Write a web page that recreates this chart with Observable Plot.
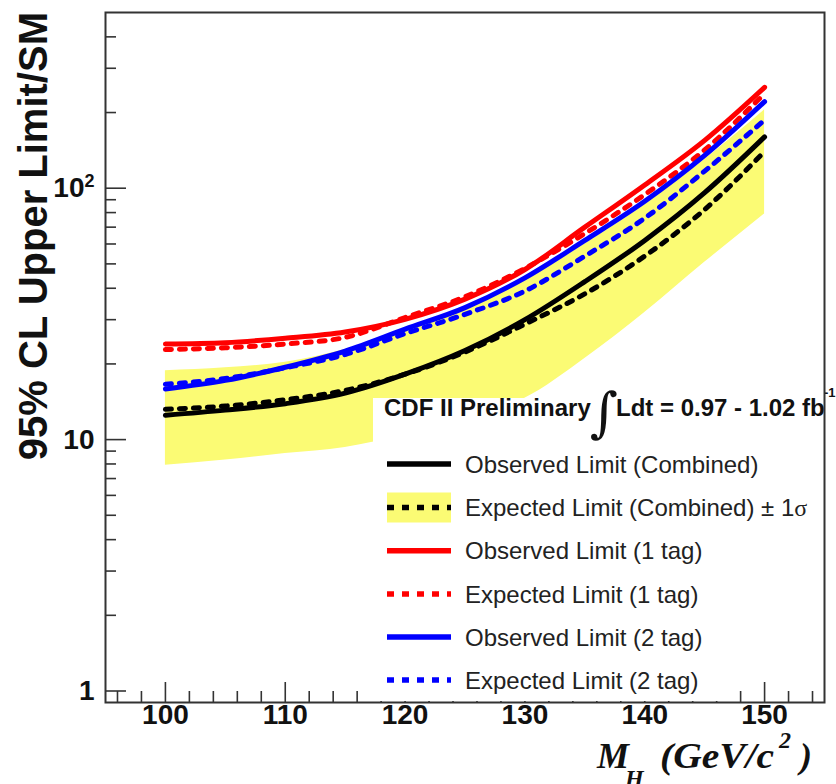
<!DOCTYPE html>
<html>
<head>
<meta charset="utf-8">
<script src="https://cdn.jsdelivr.net/npm/d3@7"></script>
<script src="https://cdn.jsdelivr.net/npm/@observablehq/plot@0.6"></script>
<style>
  html, body { margin: 0; padding: 0; background: #fff; overflow: hidden; }
  #chart { width: 836px; height: 784px; }
</style>
</head>
<body>
<div id="chart"></div>
<script>
// ---- data ----
const mass     = [100, 105, 110, 115, 120, 125, 130, 135, 140, 145, 150];
const obsComb  = [12.5, 13.1, 13.9, 15.3, 18.2, 22.6, 30.0, 42.5, 62.0, 96.0, 160];
const expComb  = [13.2, 13.6, 14.4, 15.7, 18.2, 22.3, 28.8, 38.0, 53.7, 82.3, 140];
const bandLo   = [7.9, 8.3, 8.8, 9.3, 10.5, 12.4, 14.6, 21.0, 32.0, 50.7, 79.0];
const bandHi   = [18.8, 19.3, 20.3, 22.8, 27.0, 33.0, 43.0, 60.0, 86.0, 130, 205];
const obs1tag  = [24.0, 24.3, 25.3, 26.8, 30.1, 36.2, 47.5, 70.0, 103, 155, 252];
const exp1tag  = [22.8, 23.2, 24.0, 25.5, 30.6, 37.0, 48.0, 66.0, 94.4, 142, 238];
const obs2tag  = [15.9, 17.2, 19.4, 22.5, 27.5, 33.5, 44.0, 62.0, 88.7, 135, 221];
const exp2tag  = [16.6, 17.5, 19.3, 21.8, 26.4, 31.5, 39.0, 53.7, 76.0, 117, 187];

const xMajor = [100, 110, 120, 130, 140, 150];
const xMinor = [96, 98, 102, 104, 106, 108, 112, 114, 116, 118, 122, 124, 126, 128,
                132, 134, 136, 138, 142, 144, 146, 148, 152, 154];
const yMajor = [1, 10, 100];
const yLabels = ["1", "10", "10"];
const yExponents = ["", "", "2"];
const yMinor = [2, 3, 4, 5, 6, 7, 8, 9, 20, 30, 40, 50, 60, 70, 80, 90, 200, 300, 400];

const legendLabels = [
  "Observed Limit (Combined)",
  "Expected Limit (Combined) \u00B1 1",
  "Observed Limit (1 tag)",
  "Expected Limit (1 tag)",
  "Observed Limit (2 tag)",
  "Expected Limit (2 tag)"
];
const headerText = "CDF II Preliminary";
const lumiText = "Ldt = 0.97 - 1.02 fb";
const yTitle = "95% CL Upper Limit/SM";

// ---- styling ----
const W = 836, H = 784, mL = 105, mR = 12, mT = 12, mB = 82;
const fw = W - mL - mR, fh = H - mT - mB;
const SANS = "'Liberation Sans', Arial, Helvetica, sans-serif";
const SERIF = "'Liberation Serif', 'Times New Roman', serif";
const RED = "#ff0000", BLUE = "#0000ff", BLACK = "#000000", YELLOW = "#fbfb74";
const AX = "#333333";
const LW = 5, DASH = "6,8";

const rows = mass.map((m, i) => ({
  m, obs: obsComb[i], exp: expComb[i], lo: bandLo[i], hi: bandHi[i],
  o1: obs1tag[i], e1: exp1tag[i], o2: obs2tag[i], e2: exp2tag[i]
}));
const curve = "monotone-x";

const plot = Plot.plot({
  width: W, height: H,
  marginLeft: mL, marginRight: mR, marginTop: mT, marginBottom: mB,
  style: { fontFamily: SANS, background: "#fff", color: "#111" },
  x: { domain: [95, 155], axis: null },
  y: { type: "log", domain: [0.9, 500], axis: null },
  marks: [
    Plot.areaY(rows, { x: "m", y1: "lo", y2: "hi", fill: YELLOW, curve }),
    Plot.lineY(rows, { x: "m", y: "exp", stroke: BLACK, strokeWidth: LW, strokeDasharray: DASH, curve }),
    Plot.lineY(rows, { x: "m", y: "e2", stroke: BLUE, strokeWidth: LW, strokeDasharray: DASH, curve }),
    Plot.lineY(rows, { x: "m", y: "e1", stroke: RED, strokeWidth: LW, strokeDasharray: DASH, curve }),
    Plot.lineY(rows, { x: "m", y: "obs", stroke: BLACK, strokeWidth: LW, curve }),
    Plot.lineY(rows, { x: "m", y: "o2", stroke: BLUE, strokeWidth: LW, curve }),
    Plot.lineY(rows, { x: "m", y: "o1", stroke: RED, strokeWidth: LW, curve }),
    // inward ROOT-style ticks
    Plot.ruleX(xMinor, { x: d => d, insetTop: fh - 11, stroke: AX, strokeWidth: 1.6 }),
    Plot.ruleX(xMajor, { x: d => d, insetTop: fh - 20, stroke: AX, strokeWidth: 1.6 }),
    Plot.ruleY(yMinor, { y: d => d, insetRight: fw - 11, stroke: AX, strokeWidth: 1.6 }),
    Plot.ruleY(yMajor, { y: d => d, insetRight: fw - 21, stroke: AX, strokeWidth: 1.6 }),
    Plot.text(xMajor, { x: d => d, frameAnchor: "bottom", dy: 21, text: d => String(d),
      fontSize: 28, fontWeight: "bold", fill: "#111" }),
    Plot.text(yMajor, { y: d => d, frameAnchor: "left", dx: -11, textAnchor: "end",
      text: (d, i) => yLabels[i], fontSize: 28, fontWeight: "bold", fill: "#111",
      className: "ylab" }),
    Plot.frame({ stroke: AX, strokeWidth: 2 })
  ]
});

document.getElementById("chart").appendChild(plot);

const svg = d3.select(plot).style("overflow", "visible");

// exponent of the 10^2 label as a real superscript (the whole label stays end-anchored)
svg.selectAll(".ylab text").each(function (_, i) {
  const e = yExponents[i];
  if (e) d3.select(this).append("tspan").attr("font-size", 18).attr("dy", "-0.55em").text(e);
});

// legend group inserted before the frame so the frame stays on top
const lg = svg.insert("g", '[aria-label="frame"]')
  .attr("font-family", SANS).attr("text-anchor", "start");
lg.append("rect").attr("x", 373).attr("y", 398).attr("width", 357).attr("height", 303).attr("fill", "#fff");

lg.append("text").attr("x", 384).attr("y", 416).attr("font-size", 24).attr("font-weight", "bold")
  .attr("fill", "#111").text(headerText);
lg.append("text").attr("x", 590).attr("y", 431).attr("font-size", 54).attr("font-family", "'DejaVu Serif', serif")
  .attr("fill", "#111").text("\u222B");
lg.append("text").attr("x", 616).attr("y", 416).attr("font-size", 24).attr("font-weight", "bold")
  .attr("fill", "#111").text(lumiText);
lg.append("text").attr("x", 824).attr("y", 397).attr("font-size", 13).attr("font-weight", "bold")
  .attr("fill", "#111").text("-1");

const rowY = [464, 507.5, 550.7, 594, 637, 680];
const samples = [
  { stroke: BLACK, dash: null },
  { stroke: BLACK, dash: "7,8", band: true },
  { stroke: RED, dash: null },
  { stroke: RED, dash: "7,8" },
  { stroke: BLUE, dash: null },
  { stroke: BLUE, dash: "7,8" }
];
samples.forEach((s, i) => {
  const y = rowY[i];
  if (s.band) {
    lg.append("rect").attr("x", 387).attr("y", y - 15).attr("width", 64).attr("height", 30).attr("fill", YELLOW);
  }
  const ln = lg.append("line").attr("x1", 387).attr("x2", 451).attr("y1", y).attr("y2", y)
    .attr("stroke", s.stroke).attr("stroke-width", 5.5);
  if (s.dash) ln.attr("stroke-dasharray", s.dash);
  const t = lg.append("text").attr("x", 465).attr("y", y).attr("dy", "0.36em")
    .attr("font-size", 24).attr("fill", "#222").text(legendLabels[i]);
  if (i === 1) t.append("tspan").attr("font-family", SERIF).text("\u03C3");
});

// y-axis title
svg.append("text")
  .attr("transform", "translate(47,12) rotate(-90)")
  .attr("text-anchor", "end")
  .attr("font-family", SANS).attr("font-weight", "bold").attr("font-size", 40)
  .attr("fill", "#111").text(yTitle);

// x-axis title  M_H (GeV/c^2)
const xt = svg.append("text").attr("font-family", SERIF).attr("font-weight", "bold")
  .attr("font-style", "italic").attr("font-size", 36).attr("fill", "#111")
  .attr("text-anchor", "start");
xt.append("tspan").attr("x", 597).attr("y", 768).text("M");
xt.append("tspan").attr("x", 625).attr("y", 786).attr("font-size", 24).text("H");
xt.append("tspan").attr("x", 660).attr("y", 768).attr("textLength", 114)
  .attr("lengthAdjust", "spacingAndGlyphs").text("(GeV/c");
xt.append("tspan").attr("x", 779).attr("y", 748).attr("font-size", 24).text("2");
xt.append("tspan").attr("x", 800).attr("y", 768).text(")");
</script>
</body>
</html>
